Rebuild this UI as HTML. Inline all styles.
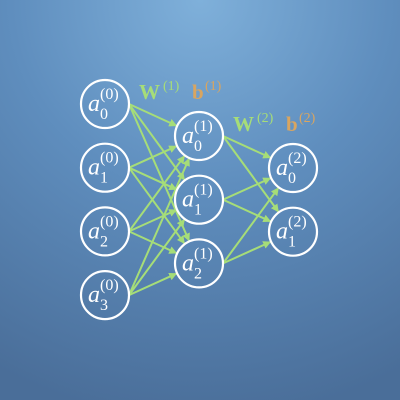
<!DOCTYPE html>
<html><head><meta charset="utf-8"><style>
html,body{margin:0;padding:0}
body{width:400px;height:400px;overflow:hidden;background:radial-gradient(ellipse 420px 420px at 200px 0px,#7fb0da 0%,#5f8ebe 45%,#4a6e99 100%);}
svg{display:block}
text{font-family:"Liberation Serif",serif;}
</style></head><body>
<svg id="net" width="400" height="400" xmlns="http://www.w3.org/2000/svg">
<defs><marker id="arr" markerWidth="8" markerHeight="8" refX="7" refY="4" orient="auto" markerUnits="userSpaceOnUse"><path d="M0,0 L8,4 L0,8 z" fill="#a6dd78"/></marker></defs>
<g id="edges"></g><g id="nodes"></g>
<g><text x="139" y="99" font-size="21" font-weight="bold" fill="#a6dd78">W</text><text x="163" y="90" font-size="14" fill="#a6dd78">(1)</text></g>
<g><text x="192" y="99" font-size="21" font-weight="bold" fill="#d9a560">b</text><text x="205" y="90" font-size="14" fill="#d9a560">(1)</text></g>
<g><text x="233" y="131" font-size="21" font-weight="bold" fill="#a6dd78">W</text><text x="257" y="122" font-size="14" fill="#a6dd78">(2)</text></g>
<g><text x="286" y="131" font-size="21" font-weight="bold" fill="#d9a560">b</text><text x="299" y="122" font-size="14" fill="#d9a560">(2)</text></g>
</svg>
<script>
const layerSizes=[4,3,2];
const layerX=[105,199,293];
const layerTopY=[104,136,168];
const spacing=63.7, R=24;
const NS="http://www.w3.org/2000/svg";
const eg=document.getElementById('edges'), ng=document.getElementById('nodes');
function pos(l,i){return [layerX[l],layerTopY[l]+i*spacing];}
for(let l=0;l<layerSizes.length-1;l++){
 for(let i=0;i<layerSizes[l];i++)for(let j=0;j<layerSizes[l+1];j++){
  const [cx1,y1]=pos(l,i),[x2,y2]=pos(l+1,j);
  const x1=cx1+R;
  const dx=x2-x1,dy=y2-y1,d=Math.hypot(dx,dy);
  const ln=document.createElementNS(NS,'line');
  ln.setAttribute('x1',x1);ln.setAttribute('y1',y1);
  ln.setAttribute('x2',x2-dx/d*(R+1));ln.setAttribute('y2',y2-dy/d*(R+1));
  ln.setAttribute('stroke','#a6dd78');ln.setAttribute('stroke-width','2');
  ln.setAttribute('marker-end','url(#arr)');
  
  
  eg.appendChild(ln);
 }
}
for(let l=0;l<layerSizes.length;l++)for(let i=0;i<layerSizes[l];i++){
 const [x,y]=pos(l,i);
 const g=document.createElementNS(NS,'g');
 
 
 const c=document.createElementNS(NS,'circle');
 c.setAttribute('cx',x);c.setAttribute('cy',y);c.setAttribute('r',R);
 c.setAttribute('fill','none');c.setAttribute('stroke','#fff');c.setAttribute('stroke-width','2.2');
 g.appendChild(c);
 const t=document.createElementNS(NS,'text');
 t.setAttribute('x',x-17);t.setAttribute('y',y+7);t.setAttribute('fill','#fff');
 t.innerHTML='<tspan font-size="24" font-style="italic">a</tspan><tspan font-size="16" dy="8">'+i+'</tspan><tspan font-size="16" dx="-8" dy="-20">('+l+')</tspan>';
 g.appendChild(t);
 ng.appendChild(g);
}
</script>
</body></html>
